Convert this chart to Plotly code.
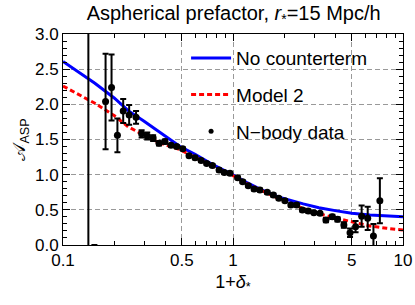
import plotly.graph_objects as go

# N-body data
data_x = [0.141, 0.153, 0.178, 0.193, 0.209, 0.226, 0.245, 0.269, 0.290, 0.313, 0.339, 0.367,
          0.398, 0.432, 0.466, 0.506, 0.551, 0.598, 0.649, 0.70, 0.756, 0.828, 0.889, 0.96,
          1.065, 1.14, 1.23, 1.33, 1.44, 1.59, 1.727, 1.86, 2.02, 2.19, 2.37, 2.56, 2.77,
          2.99, 3.25, 3.52, 3.84, 4.12, 4.49, 4.88, 5.26, 5.71, 6.2, 6.7, 7.31]
data_y = [-0.6, -0.15, 2.04, 2.24, 1.56, 1.905, 1.85, 1.815, 1.58, 1.55, 1.52, 1.446,
          1.47, 1.42, 1.40, 1.37, 1.27, 1.24, 1.20, 1.16, 1.13, 1.066, 1.03, 1.02,
          0.957, 0.90, 0.843, 0.796, 0.782, 0.749, 0.711, 0.664, 0.63, 0.569, 0.569, 0.498, 0.483,
          0.46, 0.45, 0.355, 0.40, 0.365, 0.284, 0.175, 0.26, 0.41, 0.38, 0.128, 0.63]
data_err = [4.0, 0.15, 0.68, 0.47, 0.24, 0.17, 0.14, 0.09, 0.05, 0.05, 0.04, 0.03,
            0.03, 0.02, 0.02, 0.02, 0.02, 0.02, 0.02, 0.02, 0.02, 0.02, 0.02, 0.02,
            0.02, 0.02, 0.02, 0.02, 0.02, 0.02, 0.02, 0.02, 0.02, 0.02, 0.02, 0.02, 0.02,
            0.02, 0.02, 0.03, 0.03, 0.03, 0.04, 0.06, 0.08, 0.15, 0.165, 0.17, 0.32]

# Model curves
curve_x = [0.1, 0.154, 0.2, 0.242, 0.3, 0.381, 0.488, 0.598, 0.75, 0.96, 1.2, 1.5,
           1.89, 2.59, 3.2, 4.07, 5.0, 6.4, 8.0, 10]
blue_y = [2.61, 2.30, 2.09, 1.91, 1.76, 1.58, 1.40, 1.29, 1.15, 1.02, 0.89, 0.775,
          0.675, 0.585, 0.53, 0.485, 0.452, 0.425, 0.41, 0.40]
red_y = [2.26, 2.015, 1.84, 1.68, 1.56, 1.44, 1.355, 1.245, 1.125, 1.01, 0.875, 0.765,
         0.65, 0.52, 0.445, 0.38, 0.33, 0.27, 0.238, 0.213]

x_ticks = [0.1, 0.5, 1, 5, 10]
x_ticktext = ["0.1", "0.5", "1", "5", "10"]
x_minor = [0.2, 0.3, 0.4, 0.6, 0.7, 0.8, 0.9, 2, 3, 4, 6, 7, 8, 9]
y_ticks = [0.0, 0.5, 1.0, 1.5, 2.0, 2.5, 3.0]
y_ticktext = ["0.0", "0.5", "1.0", "1.5", "2.0", "2.5", "3.0"]

FONT = "Liberation Sans, Arial, sans-serif"

fig = go.Figure()
fig.add_trace(go.Scatter(x=curve_x, y=blue_y, mode="lines", name="No counterterm",
                         line=dict(color="#0000ff", width=3),
                         legendgroup="a"))
fig.add_trace(go.Scatter(x=curve_x, y=red_y, mode="lines", name="Model 2",
                         line=dict(color="#ff0000", width=3, dash="5px,3px"),
                         legendgroup="b"))
fig.add_trace(go.Scatter(x=data_x, y=data_y, mode="markers", name="N\u2212body data",
                         marker=dict(color="black", size=7),
                         error_y=dict(type="data", array=data_err, color="black",
                                      thickness=2, width=3),
                         showlegend=False))
fig.add_trace(go.Scatter(x=[None], y=[None], mode="markers", name="N\u2212body data",
                         marker=dict(color="black", size=5), legendgroup="c"))

axis_common = dict(showline=True, linecolor="black", linewidth=1, mirror="allticks",
                   ticks="inside", ticklen=7, tickcolor="black", automargin=False,
                   showgrid=True, gridcolor="#999999", griddash="5px,3px", gridwidth=1,
                   zeroline=False, tickfont=dict(family=FONT, size=17, color="black"))

fig.update_xaxes(type="log", range=[-1, 1], tickmode="array", tickvals=x_ticks,
                 ticktext=x_ticktext,
                 minor=dict(tickmode="array", tickvals=x_minor, ticks="inside",
                            ticklen=4, tickcolor="black", showgrid=False),
                 title=dict(text="1+<i>δ</i><sub>*</sub>", font=dict(family=FONT, size=18),
                            standoff=5),
                 **axis_common)
fig.update_yaxes(range=[0, 3], tickmode="array", tickvals=y_ticks, ticktext=y_ticktext,
                 minor=dict(dtick=0.1, ticks="inside", ticklen=4, tickcolor="black",
                            showgrid=False),
                 title=dict(text="𝒜<sub>ASP</sub>", font=dict(family=FONT, size=18),
                            standoff=4),
                 **axis_common)

fig.update_layout(
    width=415, height=305,
    margin=dict(l=63, r=12, t=34, b=60),
    paper_bgcolor="white", plot_bgcolor="white",
    font=dict(family=FONT, color="black"),
    title=dict(text="Aspherical prefactor, <i>r</i><sub>*</sub>=15 Mpc/h",
               x=0.563, xanchor="center", y=0.959, yanchor="middle",
               font=dict(family=FONT, size=20)),
    showlegend=True,
    legend=dict(x=0.362, y=0.976, xanchor="left", yanchor="top",
                bgcolor="rgba(0,0,0,0)", font=dict(family=FONT, size=19),
                tracegroupgap=9, itemwidth=40),
)

fig.write_html("out.html", config={"displayModeBar": False},
               post_script="document.body.style.margin='0px';document.body.style.overflow='hidden';")
